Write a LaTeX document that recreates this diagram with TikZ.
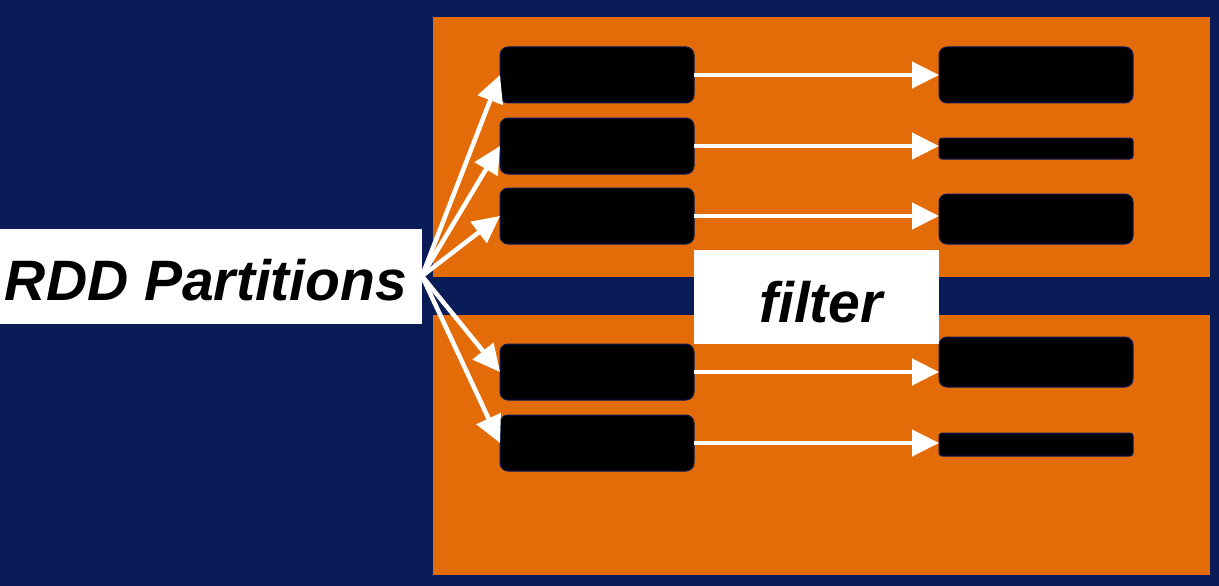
\documentclass[tikz,border=0pt]{standalone}
\usepackage{fontspec}
\setmainfont{Liberation Sans}
\usetikzlibrary{arrows.meta,positioning}
\definecolor{navy}{RGB}{10,28,87}
\definecolor{orng}{RGB}{227,108,9}
\begin{document}
\begin{tikzpicture}[x=1pt,y=-1pt,
  panel/.style={fill=orng,draw=none},
  part/.style={draw=navy,line width=1pt,fill=black,rounded corners=8pt,inner sep=0pt,outer sep=0pt,minimum width=194pt},
  thinpart/.style={draw=navy,line width=1pt,fill=black,rounded corners=3pt,inner sep=0pt,outer sep=0pt,minimum width=194pt},
  lblbox/.style={fill=white,inner sep=0pt,outer sep=0pt},
  lbltxt/.style={inner sep=0pt,outer sep=0pt,font=\fontsize{57}{60}\selectfont\bfseries\itshape},
  arr/.style={draw=white,line width=4.5pt,-{Triangle[length=27pt,width=26pt]}}
]
\fill[navy] (0,0) rectangle (1219,586);
\useasboundingbox (0,0) rectangle (1219,586);
\fill[panel] (433,17) rectangle (1210,277);
\fill[panel] (433,315) rectangle (1210,575);

% left partitions
\node[part,minimum height=56pt] (l1) at (597,75) {};
\node[part,minimum height=56pt] (l2) at (597,146) {};
\node[part,minimum height=56pt] (l3) at (597,216) {};
\node[part,minimum height=56pt] (l4) at (597,372) {};
\node[part,minimum height=56pt] (l5) at (597,443) {};

% right partitions
\node[part,minimum height=56pt] (r1) at (1036,75) {};
\node[thinpart,minimum height=21pt] (r2) at (1036,148.5) {};
\node[part,minimum height=50pt] (r3) at (1036,219) {};
\node[part,minimum height=50pt] (r4) at (1036,362) {};
\node[thinpart,minimum height=23pt] (r5) at (1036,444.5) {};

% labels
\node[lblbox,minimum width=422pt,minimum height=95pt] (rdd) at (211,276) {};
\node[lbltxt,anchor=base] (rddtxt) at (206,300) {RDD Partitions};
\node[lblbox,minimum width=245pt,minimum height=94pt] (flt) at (816.5,297) {};
\node[lbltxt,anchor=base] (flttxt) at (821,322) {filter};

% fan arrows
\coordinate (o) at (rdd.east);
\foreach \i in {1,...,5}{
  \draw[arr] (o) -- (l\i.west);
}
% filter arrows
\foreach \i in {1,...,5}{
  \draw[arr] (l\i.east) -- (l\i.east -| r\i.west);
}
\end{tikzpicture}
\end{document}
